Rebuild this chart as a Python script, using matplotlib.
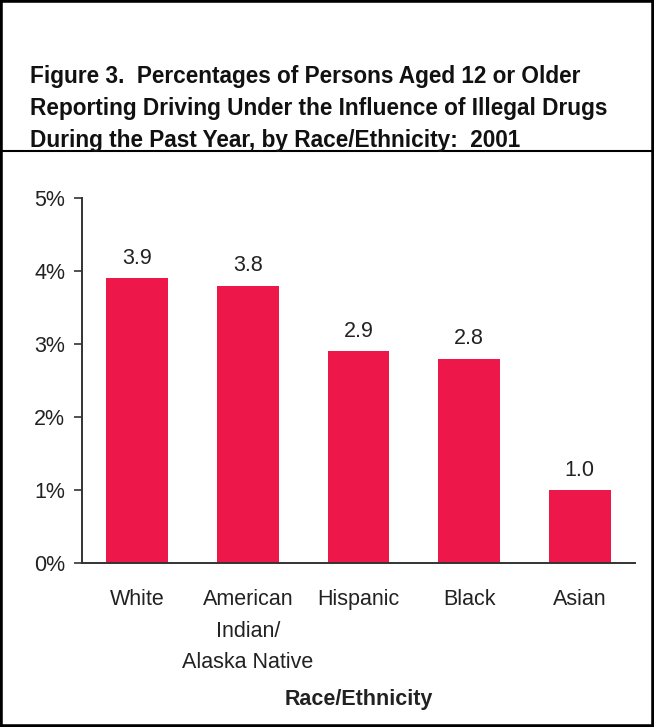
import numpy as np
import matplotlib.pyplot as plt
from matplotlib.patches import Rectangle
from matplotlib.lines import Line2D

plt.rcParams['font.family'] = ['Liberation Sans', 'DejaVu Sans']

categories = ['White', 'American\nIndian/\nAlaska Native', 'Hispanic', 'Black', 'Asian']
values = [3.9, 3.8, 2.9, 2.8, 1.0]
yticks = [0, 1, 2, 3, 4, 5]
title_lines = ['Figure 3.  Percentages of Persons Aged 12 or Older',
               'Reporting Driving Under the Influence of Illegal Drugs',
               'During the Past Year, by Race/Ethnicity:  2001']

W, H = 654, 727
fig = plt.figure(figsize=(W / 100, H / 100), dpi=100)
ax = fig.add_axes([82 / W, 1 - 563 / H, (635 - 82) / W, (563 - 198) / H])

text_col = '#222222'
fs = 15.5
x = np.arange(len(categories))
ax.bar(x, values, width=0.56, color='#ED1849', zorder=2)
for xi, v in zip(x, values):
    ax.text(xi, v + 0.13, f'{v:.1f}', ha='center', va='bottom', fontsize=fs, color=text_col)

ax.set_xlim(-0.5, len(categories) - 0.5)
ax.set_ylim(0, 5)
ax.set_yticks(yticks)
ax.set_yticklabels([f'{t}%' for t in yticks], fontsize=fs, color=text_col)
ax.set_xticks(x)
ax.set_xticklabels(categories, fontsize=fs, color=text_col, linespacing=1.68, va='top')
ax.tick_params(axis='x', length=0, pad=18.5)
ax.tick_params(axis='y', length=6, width=1.2, color='#333333', pad=6)
for s in ['top', 'right']:
    ax.spines[s].set_visible(False)
for s in ['left', 'bottom']:
    ax.spines[s].set_color('#333333')
    ax.spines[s].set_linewidth(1.4)

fig.text(0.5 * (82 + 635) / W, 1 - 700 / H, 'Race/Ethnicity', ha='center', va='center',
         fontsize=fs, fontweight='bold', color=text_col)

for i, line in enumerate(title_lines):
    fig.text(30 / W, 1 - (77 + 31.5 * i) / H, line, ha='left', va='center',
             fontsize=16.3, fontweight='bold', color='#111111')

# frame and title separator
fig.add_artist(Rectangle((0, 0), 1, 1, transform=fig.transFigure, fill=False,
                         edgecolor='black', linewidth=4))
fig.add_artist(Line2D([0, 1], [1 - 151 / H] * 2, transform=fig.transFigure,
                      color='black', linewidth=1.5))

fig.savefig('out.png', dpi=100)
